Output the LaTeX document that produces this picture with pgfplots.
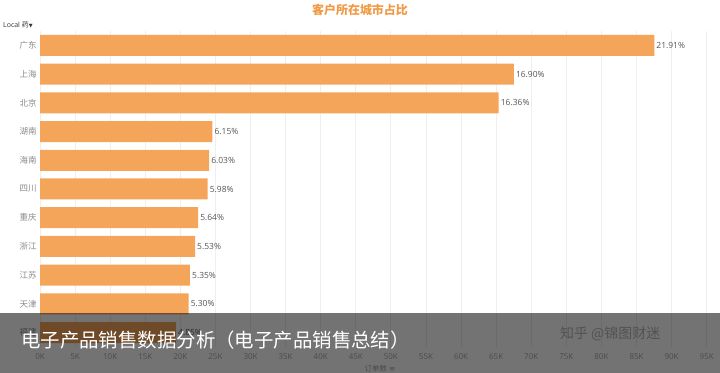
\documentclass[border=0pt]{standalone}
\usepackage{fontspec}
\setmainfont{Open Sans}
\newfontfamily\cjk{Noto Sans CJK SC}
\newfontfamily\dejavu{DejaVu Sans}
\usepackage{pgfplots}
\pgfplotsset{compat=1.18}
\usepackage{pgfplotstable}
\definecolor{barc}{HTML}{F5A55A}
\definecolor{titlec}{HTML}{F09A45}
\definecolor{gridc}{HTML}{EFEFEF}
\definecolor{tickc}{HTML}{8A8A8A}
\definecolor{xtickc}{HTML}{A6A6A6}
\definecolor{valc}{HTML}{555555}
\pgfplotsset{
  layers/mylayers/.define layer set={
    axis background,axis grid,axis ticks,axis lines,pre main,main,band,axis tick labels,axis descriptions,axis foreground
  }{},
}
\pgfplotstableread{
idx v p
0 87530 21.91
1 67520 16.90
2 65360 16.36
3 24570 6.15
4 24090 6.03
5 23890 5.98
6 22530 5.64
7 22090 5.53
8 21370 5.35
9 21170 5.30
10 19380 4.85
}\data
\begin{document}
\begin{tikzpicture}
\begin{axis}[
  set layers=mylayers,
  at={(40bp,26bp)}, anchor=south west,
  scale only axis, width=680bp, height=316bp,
  xbar, bar width=21bp,
  xmin=0, xmax=96900, ymin=-0.5, ymax=10.5, y dir=reverse,
  axis line style={draw=none},
  major tick length=0pt,
  scaled x ticks=false,
  xtick={0,5000,...,95000},
  xticklabels={0K,5K,10K,15K,20K,25K,30K,35K,40K,45K,50K,55K,60K,65K,70K,75K,80K,85K,90K,95K},
  xmajorgrids, grid style={gridc, line width=0.8bp},
  ytick={0,...,10},
  yticklabels={广东,上海,北京,湖南,海南,四川,重庆,浙江,江苏,天津,福建},
  xticklabel style={font=\fontsize{8}{8}\selectfont, text=xtickc, yshift=-3bp},
  yticklabel style={font=\cjk\fontsize{8.5}{9}\selectfont, text=tickc},
  point meta=explicit symbolic,
  nodes near coords={\pgfplotspointmeta\%},
  nodes near coords style={font=\fontsize{8.5}{9}\selectfont, text=valc, anchor=west, inner sep=2bp},
  xlabel={{\cjk 订单数} {\dejavu ≡}},
  xlabel style={at={(axis description cs:0.5,0)}, anchor=center, yshift=-22bp, font=\fontsize{7.5}{8}\selectfont, text=xtickc},
  clip=false,
]
\addplot[fill=barc, draw=none] table[x=v, y=idx, meta=p]{\data};
\begin{pgfonlayer}{band}
\fill[black, opacity=0.55] (rel axis cs:-0.0589,-0.0823) rectangle (rel axis cs:1,0.1076);
\end{pgfonlayer}
\end{axis}
\begin{pgfonlayer}{axis foreground}
\node[font=\cjk\bfseries\fontsize{12}{12}\selectfont, text=titlec] at (360bp,363bp) {客户所在城市占比};
\node[anchor=west, inner sep=0pt, font=\fontsize{7}{7}\selectfont, text=black!80] at (3bp,348bp) {Local {\cjk 药}{\dejavu\fontsize{5}{5}\selectfont ▼}};
\node[anchor=west, inner sep=0pt, text=black!68, font=\cjk\fontsize{14}{14}\selectfont] at (560bp,39bp) {知乎 @锦图财迷};
\node[anchor=west, inner sep=0pt, text=white, font=\cjk\fontsize{19.5}{20}\selectfont] at (21bp,33bp) {电子产品销售数据分析（电子产品销售总结）};
\end{pgfonlayer}
\pgfresetboundingbox
\path[use as bounding box] (0,0) rectangle (720bp,373bp);
\end{tikzpicture}
\end{document}
